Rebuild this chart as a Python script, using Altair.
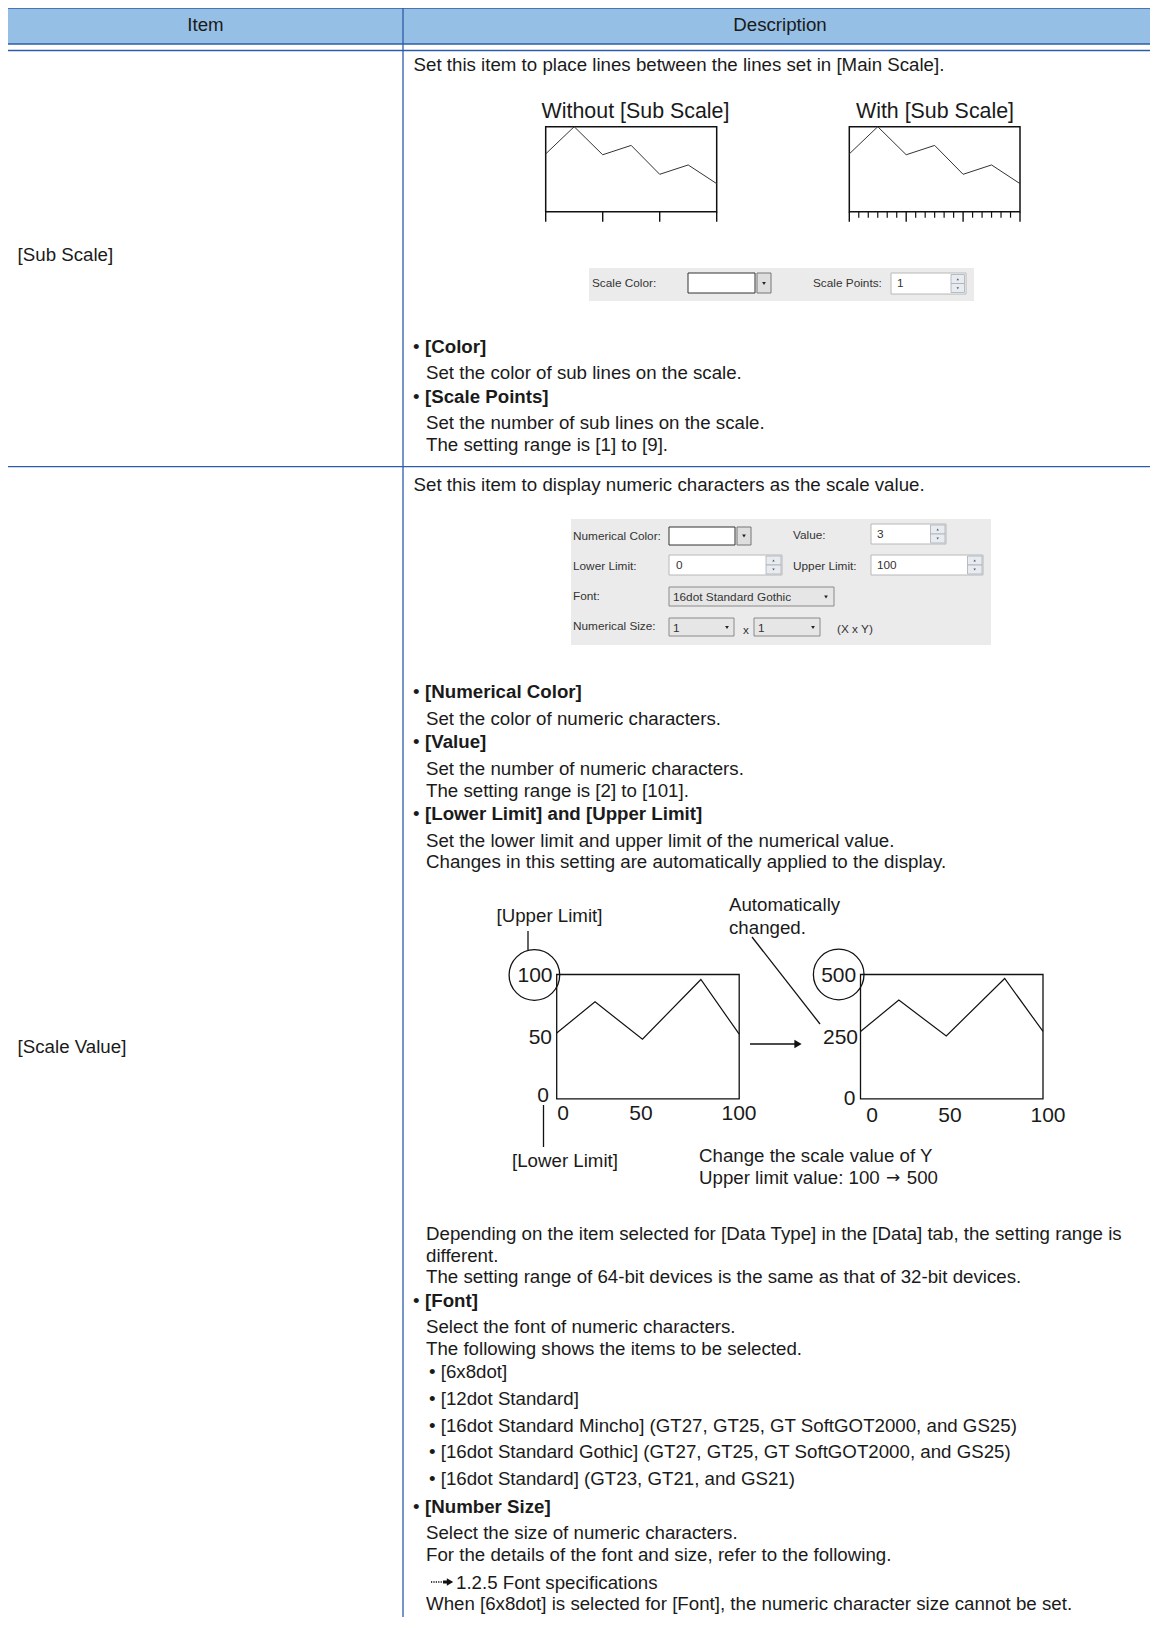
import altair as alt
import pandas as pd

# ---------------- data (values & texts) ----------------
header_labels = ["Item", "Description"]
item_labels = ["[Sub Scale]", "[Scale Value]"]

sub_intro = "Set this item to place lines between the lines set in [Main Scale]."
sub_titles = ["Without [Sub Scale]", "With [Sub Scale]"]
sub_points = [0, 1, 2, 3, 4, 5, 6]
sub_values = [68, 100, 67, 78, 44, 55, 33]
sub_major_ticks = [0, 2, 4, 6]
sub_minor_ticks = [0.333, 0.667, 1, 1.333, 1.667, 2.333, 2.667, 3, 3.333, 3.667,
                   4.333, 4.667, 5, 5.333, 5.667]
dialog1_labels = ["Scale Color:", "Scale Points:"]
dialog1_value = "1"
sub_bullets = ["[Color]", "[Scale Points]"]
sub_lines = ["Set the color of sub lines on the scale.",
             "Set the number of sub lines on the scale.",
             "The setting range is [1] to [9]."]

val_intro = "Set this item to display numeric characters as the scale value."
dialog2_left_labels = ["Numerical Color:", "Lower Limit:", "Font:", "Numerical Size:"]
dialog2_right_labels = ["Value:", "Upper Limit:"]
dialog2_values = ["3", "0", "100", "16dot Standard Gothic", "1", "1"]
dialog2_extra = ["x", "(X x Y)"]
val_bullets = ["[Numerical Color]", "[Value]", "[Lower Limit] and [Upper Limit]",
               "[Font]", "[Number Size]"]
val_lines = ["Set the color of numeric characters.",
             "Set the number of numeric characters.",
             "The setting range is [2] to [101].",
             "Set the lower limit and upper limit of the numerical value.",
             "Changes in this setting are automatically applied to the display.",
             "Depending on the item selected for [Data Type] in the [Data] tab, the setting range is",
             "different.",
             "The setting range of 64-bit devices is the same as that of 32-bit devices.",
             "Select the font of numeric characters.",
             "The following shows the items to be selected.",
             "Select the size of numeric characters.",
             "For the details of the font and size, refer to the following.",
             "When [6x8dot] is selected for [Font], the numeric character size cannot be set."]
font_items = ["• [6x8dot]", "• [12dot Standard]",
              "• [16dot Standard Mincho] (GT27, GT25, GT SoftGOT2000, and GS25)",
              "• [16dot Standard Gothic] (GT27, GT25, GT SoftGOT2000, and GS25)",
              "• [16dot Standard] (GT23, GT21, and GS21)"]
ref_text = "1.2.5 Font specifications"

diag_x = [0, 21, 47, 79, 100]
diag_before = [53, 78, 48, 96, 52]
diag_after = [271, 397, 253, 484, 271]
before_y_ticks = ["100", "50", "0"]
after_y_ticks = ["500", "250", "0"]
x_ticks = ["0", "50", "100"]
diag_notes = ["[Upper Limit]", "[Lower Limit]", "Automatically", "changed.",
              "Change the scale value of Y"]
limit_change = ["Upper limit value: 100", "→", "500"]

# ---------------- layout & style ----------------
W, H = 1142, 1609
X0, Y0 = 8, 8
FONT = "Liberation Sans"
UI = "Liberation Sans"
INK = "#1a1a1a"
RULE = "#2e5ca8"
HEAD = "#95bfe4"
PANEL = "#ebebeb"
BODY = 18.7


def sx():
    return alt.Scale(domain=[X0, X0 + W], range=[0, W], nice=False, zero=False)


def sy():
    return alt.Scale(domain=[Y0, Y0 + H], range=[0, H], nice=False, zero=False)


def texts(rows, size=BODY, weight="normal", align="left", font=FONT, color=INK, dy=2):
    df = pd.DataFrame(rows, columns=["t", "x", "y"])
    return alt.Chart(df).mark_text(
        align=align, baseline="middle", fontSize=size, fontWeight=weight,
        font=font, color=color, dy=dy
    ).encode(text="t:N", x=alt.X("x:Q", scale=sx(), axis=None),
             y=alt.Y("y:Q", scale=sy(), axis=None))


def rules(rows, color=RULE, width=1.3, dash=None):
    df = pd.DataFrame(rows, columns=["x", "y", "x2", "y2"])
    kw = dict(color=color, strokeWidth=width)
    if dash:
        kw["strokeDash"] = dash
    return alt.Chart(df).mark_rule(**kw).encode(
        x=alt.X("x:Q", scale=sx(), axis=None), y=alt.Y("y:Q", scale=sy(), axis=None),
        x2="x2:Q", y2="y2:Q")


def rects(rows, fill="white", stroke="#333", width=1.0, fill_opacity=1.0):
    df = pd.DataFrame(rows, columns=["x", "y", "x2", "y2"])
    return alt.Chart(df).mark_rect(
        fill=fill, stroke=stroke, strokeWidth=width, fillOpacity=fill_opacity
    ).encode(x=alt.X("x:Q", scale=sx(), axis=None), y=alt.Y("y:Q", scale=sy(), axis=None),
             x2="x2:Q", y2="y2:Q")


def symbols(rows, shape, size, filled=True, color="#222", width=1.0):
    df = pd.DataFrame(rows, columns=["x", "y"])
    return alt.Chart(df).mark_point(
        shape=shape, size=size, filled=filled, color=color, strokeWidth=width, opacity=1
    ).encode(x=alt.X("x:Q", scale=sx(), axis=None), y=alt.Y("y:Q", scale=sy(), axis=None))


def mini_line(xs, ys, xdom, ydom, box, color="#333", width=1.0):
    left, top, right, bottom = box
    df = pd.DataFrame({"i": xs, "v": ys})
    return alt.Chart(df).mark_line(color=color, strokeWidth=width).encode(
        x=alt.X("i:Q", scale=alt.Scale(domain=xdom, range=[left - X0, right - X0],
                                       nice=False, zero=False), axis=None),
        y=alt.Y("v:Q", scale=alt.Scale(domain=ydom, range=[bottom - Y0, top - Y0],
                                       nice=False, zero=False), axis=None))


def mini_ticks(ticks, xdom, box, length, color="#111", width=1.4):
    left, top, right, bottom = box
    df = pd.DataFrame({"i": ticks, "y": [bottom] * len(ticks), "y2": [bottom + length] * len(ticks)})
    return alt.Chart(df).mark_rule(color=color, strokeWidth=width).encode(
        x=alt.X("i:Q", scale=alt.Scale(domain=xdom, range=[left - X0, right - X0],
                                       nice=False, zero=False), axis=None),
        y=alt.Y("y:Q", scale=sy(), axis=None), y2="y2:Q")


layers = []

# ---- table frame ----
layers.append(rects([(X0, 8, X0 + W, 44)], fill=HEAD, stroke=HEAD, width=0))
layers.append(rules([(X0, 8, X0 + W, 8), (X0, 44, X0 + W, 44), (X0, 50.5, X0 + W, 50.5),
                     (X0, 466.7, X0 + W, 466.7), (403, 8, 403, Y0 + H)]))
layers.append(texts([(header_labels[0], 205.5, 26), (header_labels[1], 780, 26)],
                    align="center", dy=-1))
layers.append(texts([(item_labels[0], 17.6, 253), (item_labels[1], 17.6, 1045)]))

# ---- row 1: sub scale ----
layers.append(texts([(sub_intro, 413.6, 63)]))
layers.append(texts([(sub_titles[0], 635.5, 111), (sub_titles[1], 935, 111)],
                    size=21.4, align="center", dy=1))
box_a = (545.7, 126.7, 716.7, 211.7)
box_b = (849.3, 126.7, 1020, 211.7)
for box in (box_a, box_b):
    layers.append(rects([box], fill="white", stroke="#111", width=1.5, fill_opacity=0))
    layers.append(mini_line(sub_points, sub_values, [0, 6], [0, 100], box))
    layers.append(mini_ticks(sub_major_ticks, [0, 6], box, 10))
layers.append(mini_ticks(sub_minor_ticks, [0, 6], box_b, 6, width=1.2))

# dialog 1
layers.append(rects([(589, 268, 974, 301)], fill=PANEL, stroke=PANEL, width=0))
layers.append(rects([(688, 273, 755, 293)], fill="white", stroke="#333", width=1))
layers.append(rects([(757, 273, 771, 293)], fill="#dedede", stroke="#777", width=1))
layers.append(rects([(891, 273, 966, 294)], fill="white", stroke="#b8b8b8", width=1))
layers.append(rects([(951, 274.5, 964.5, 283.5), (951, 283.5, 964.5, 292.5)],
                    fill="#e8ebf0", stroke="#a8adb8", width=0.8))
layers.append(symbols([(764, 283.5)], "triangle-down", 14))
layers.append(symbols([(957.8, 279.3)], "triangle-up", 6, color="#556"))
layers.append(symbols([(957.8, 288.3)], "triangle-down", 6, color="#556"))
layers.append(texts([(dialog1_labels[0], 592, 283), (dialog1_labels[1], 813, 283),
                     (dialog1_value, 897, 283)], size=11.8, font=UI, color="#333", dy=0))

layers.append(texts([("•", 413, 345), ("•", 413, 395)]))
layers.append(texts([(sub_bullets[0], 425, 345), (sub_bullets[1], 425, 395)], weight="bold"))
layers.append(texts([(sub_lines[0], 426, 371), (sub_lines[1], 426, 421),
                     (sub_lines[2], 426, 443)]))

# ---- row 2: scale value ----
layers.append(texts([(val_intro, 413.6, 483)]))

# dialog 2
layers.append(rects([(571, 519, 991, 645)], fill=PANEL, stroke=PANEL, width=0))
layers.append(rects([(669, 527, 735, 545)], fill="white", stroke="#333", width=1))
layers.append(rects([(737, 527, 751, 545)], fill="#dedede", stroke="#777", width=1))
layers.append(rects([(871, 524, 946, 544), (669, 555, 782, 575), (871, 555, 983, 575)],
                    fill="white", stroke="#b8b8b8", width=1))
layers.append(rects([(930.5, 525, 945, 534), (930.5, 534, 945, 543),
                     (766, 556, 781, 565), (766, 565, 781, 574),
                     (967.5, 556, 982, 565), (967.5, 565, 982, 574)],
                    fill="#e8ebf0", stroke="#a8adb8", width=0.8))
layers.append(rects([(669, 587, 834, 606), (669, 618, 734, 636), (754, 618, 820, 636)],
                    fill="#e6e6e6", stroke="#8a8a8a", width=1))
layers.append(symbols([(744, 536), (826, 597), (727, 627.5), (813, 627.5)], "triangle-down", 14))
layers.append(symbols([(937.7, 529.5), (773.5, 560.5), (974.7, 560.5)], "triangle-up", 6, color="#556"))
layers.append(symbols([(937.7, 538.5), (773.5, 569.5), (974.7, 569.5)], "triangle-down", 6, color="#556"))
layers.append(texts([(dialog2_left_labels[0], 573, 536), (dialog2_left_labels[1], 573, 566),
                     (dialog2_left_labels[2], 573, 596), (dialog2_left_labels[3], 573, 626),
                     (dialog2_right_labels[0], 793, 535), (dialog2_right_labels[1], 793, 566),
                     (dialog2_values[0], 877, 534), (dialog2_values[1], 676, 565),
                     (dialog2_values[2], 877, 565), (dialog2_values[3], 673, 597),
                     (dialog2_values[4], 673, 627.5), (dialog2_values[5], 758, 627.5),
                     (dialog2_extra[0], 743, 630), (dialog2_extra[1], 837, 629)],
                    size=11.8, font=UI, color="#333", dy=0))

bullet_y = [690, 740, 812, 1299, 1505]
layers.append(texts([("•", 413, y) for y in bullet_y]))
layers.append(texts([(t, 425, y) for t, y in zip(val_bullets, bullet_y)], weight="bold"))
line_y = [717, 767, 789, 839, 860, 1232, 1254, 1275, 1325, 1347, 1531, 1553, 1602]
layers.append(texts([(t, 426, y) for t, y in zip(val_lines, line_y)]))
item_y = [1370, 1397, 1424, 1450, 1477]
layers.append(texts([(t, 429, y) for t, y in zip(font_items, item_y)]))
# reference icon (dotted tail + arrow) and text
layers.append(rules([(431, 1582, 443, 1582)], color="#444", width=2.2, dash=[1.2, 1.2]))
layers.append(rules([(443, 1582, 448, 1582)], color="#111", width=3))
layers.append(symbols([(450, 1582)], "triangle-right", 55, color="#111"))
layers.append(texts([(ref_text, 456, 1581)]))

# diagram: scale value change
box_c = (556.7, 974.5, 739.2, 1098.9)
box_d = (860.5, 974.5, 1043, 1098.9)
layers.append(rects([box_c, box_d], fill="white", stroke="#111", width=1.3, fill_opacity=0))
layers.append(mini_line(diag_x, diag_before, [0, 100], [0, 100], box_c, color="#111", width=1.2))
layers.append(mini_line(diag_x, diag_after, [0, 100], [0, 500], box_d, color="#111", width=1.2))
layers.append(symbols([(534.4, 975), (838.7, 974.5)], "circle", 2560, filled=False,
                      color="#111", width=1.3))
layers.append(texts([(before_y_ticks[0], 535, 975), (after_y_ticks[0], 838.7, 975),
                     (x_ticks[0], 563, 1113), (x_ticks[1], 641, 1113), (x_ticks[2], 739, 1113),
                     (x_ticks[0], 872, 1114.5), (x_ticks[1], 950, 1114.5),
                     (x_ticks[2], 1048, 1114.5)], size=21, align="center", dy=1))
layers.append(texts([(before_y_ticks[1], 552, 1037), (before_y_ticks[2], 549, 1095),
                     (after_y_ticks[1], 858, 1037), (after_y_ticks[2], 855.5, 1098)],
                    size=21, align="right", dy=1))
layers.append(texts([(diag_notes[0], 549.5, 914), (diag_notes[1], 565, 1159)], align="center"))
layers.append(texts([(diag_notes[2], 729, 903), (diag_notes[3], 729, 926),
                     (diag_notes[4], 699, 1154), (limit_change[0], 699, 1176)]))
layers.append(texts([(limit_change[1], 893, 1176)], size=17, font="DejaVu Sans", align="center"))
layers.append(texts([(limit_change[2], 938, 1176)], align="right"))
layers.append(rules([(528, 931, 528, 950), (543.5, 1105, 543.5, 1147),
                     (752, 937, 820, 1024), (750, 1044, 796, 1044)], color="#111", width=1.3))
layers.append(symbols([(798, 1044)], "triangle-right", 70, color="#111"))

chart = alt.layer(*layers).resolve_scale(
    x="independent", y="independent"
).properties(
    width=W, height=H, padding=0, autosize=alt.AutoSizeParams(type="none"),
    background="white"
).configure_view(stroke=None)

chart.save("out.html", embed_options={"renderer": "svg", "actions": False})
